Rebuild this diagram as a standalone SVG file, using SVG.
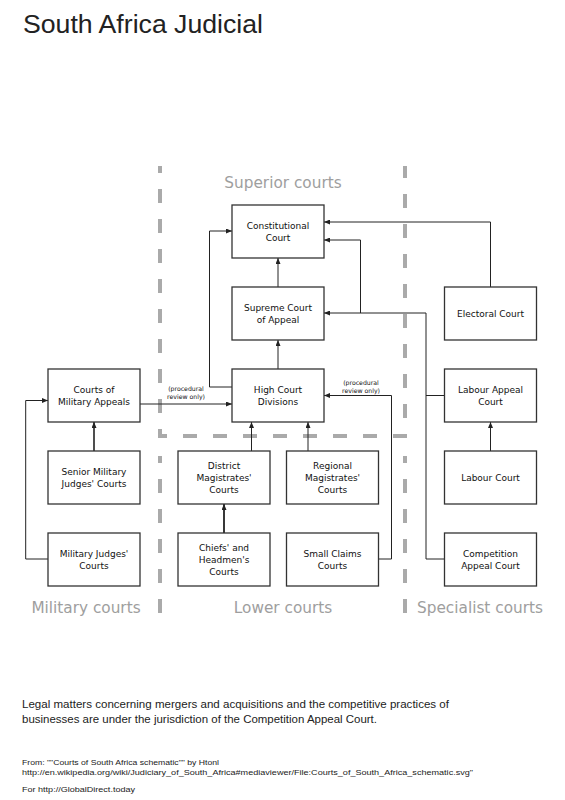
<svg xmlns="http://www.w3.org/2000/svg" width="565" height="800" viewBox="0 0 565 800">
<style>
.box{fill:#fff;stroke:#333;stroke-width:1.3}
.bt{font-family:"DejaVu Sans",Verdana,sans-serif;font-size:9px;fill:#111;text-anchor:middle}
.sec{font-family:"DejaVu Sans",Verdana,sans-serif;font-size:15.3px;fill:#9e9e9e;text-anchor:middle}
.note{font-family:"DejaVu Sans",Verdana,sans-serif;font-size:6.2px;fill:#111;text-anchor:middle}
.dash{fill:none;stroke:#aaa;stroke-width:4;stroke-dasharray:14 16;stroke-dashoffset:7}
.c{fill:none;stroke:#222;stroke-width:1}
.ca{fill:none;stroke:#222;stroke-width:1;marker-end:url(#ah)}
.ft{font-family:"Liberation Sans",Arial,sans-serif;fill:#222}
</style>
<defs>
<marker id="ah" markerUnits="userSpaceOnUse" markerWidth="6" markerHeight="5" refX="6" refY="2.5" orient="auto">
<path d="M0,0 L6,2.5 L0,5 z" fill="#222"/>
</marker>
</defs>
<rect width="565" height="800" fill="#fff"/>
<text class="ft" x="23" y="33" font-size="25" textLength="240" lengthAdjust="spacingAndGlyphs" fill="#111">South Africa Judicial</text>

<g id="regions">
<path class="dash" d="M160,166 V436 H405 V166"/>
<path class="dash" d="M160,456 V628"/>
<path class="dash" d="M405,456 V628"/>
<text class="sec" x="283" y="188">Superior courts</text>
<text class="sec" x="86" y="613">Military courts</text>
<text class="sec" x="283" y="613">Lower courts</text>
<text class="sec" x="480" y="613">Specialist courts</text>
</g>

<g id="connectors">
<path class="ca" d="M278,287 V258"/>
<path class="ca" d="M278,369 V340"/>
<path class="ca" d="M232,387 H209.5 V231 H232"/>
<path class="ca" d="M490.5,287 V222 H324"/>
<path class="c" d="M444.5,395.5 H426"/>
<path class="ca" d="M444.5,559 H426 V313 H324"/>
<path class="ca" d="M360.5,313 V240 H324"/>
<path class="ca" d="M490.5,451 V422"/>
<path class="ca" d="M378.5,559 H391.5 V395.5 H324"/>
<path class="ca" d="M140,404 H232"/>
<path class="ca" d="M94,451 V422" style="stroke-width:1.6"/>
<path class="ca" d="M48,559 H25.7 V400.5 H48"/>
<path class="ca" d="M251.5,451 V422"/>
<path class="ca" d="M308,451 V422"/>
<path class="ca" d="M224,533 V504" style="stroke-width:1.8"/>
<text class="note" x="186" y="391">(procedural</text>
<text class="note" x="186" y="398.5">review only)</text>
<text class="note" x="361" y="385">(procedural</text>
<text class="note" x="361" y="392.5">review only)</text>
</g>

<g id="constitutional"><rect class="box" x="232" y="205" width="92" height="53"/><text class="bt" x="278" y="228.5">Constitutional</text><text class="bt" x="278" y="240.5">Court</text></g>
<g id="supreme"><rect class="box" x="232" y="287" width="92" height="53"/><text class="bt" x="278" y="310.5">Supreme Court</text><text class="bt" x="278" y="322.5">of Appeal</text></g>
<g id="high"><rect class="box" x="232" y="369" width="92" height="53"/><text class="bt" x="278" y="392.5">High Court</text><text class="bt" x="278" y="404.5">Divisions</text></g>

<g id="milappeals"><rect class="box" x="48" y="369" width="92" height="53"/><text class="bt" x="94" y="392.5">Courts of</text><text class="bt" x="94" y="404.5">Military Appeals</text></g>
<g id="senior"><rect class="box" x="48" y="451" width="92" height="53"/><text class="bt" x="94" y="474.5">Senior Military</text><text class="bt" x="94" y="486.5">Judges' Courts</text></g>
<g id="miljudges"><rect class="box" x="48" y="533" width="92" height="53"/><text class="bt" x="94" y="556.5">Military Judges'</text><text class="bt" x="94" y="568.5">Courts</text></g>

<g id="district"><rect class="box" x="178" y="451" width="92" height="53"/><text class="bt" x="224" y="468.5">District</text><text class="bt" x="224" y="480.5">Magistrates'</text><text class="bt" x="224" y="492.5">Courts</text></g>
<g id="regional"><rect class="box" x="286.5" y="451" width="92" height="53"/><text class="bt" x="332.5" y="468.5">Regional</text><text class="bt" x="332.5" y="480.5">Magistrates'</text><text class="bt" x="332.5" y="492.5">Courts</text></g>
<g id="chiefs"><rect class="box" x="178" y="533" width="92" height="53"/><text class="bt" x="224" y="550.5">Chiefs' and</text><text class="bt" x="224" y="562.5">Headmen's</text><text class="bt" x="224" y="574.5">Courts</text></g>
<g id="smallclaims"><rect class="box" x="286.5" y="533" width="92" height="53"/><text class="bt" x="332.5" y="556.5">Small Claims</text><text class="bt" x="332.5" y="568.5">Courts</text></g>

<g id="electoral"><rect class="box" x="444.5" y="287" width="92" height="53"/><text class="bt" x="490.5" y="316.5">Electoral Court</text></g>
<g id="labourappeal"><rect class="box" x="444.5" y="369" width="92" height="53"/><text class="bt" x="490.5" y="392.5">Labour Appeal</text><text class="bt" x="490.5" y="404.5">Court</text></g>
<g id="labour"><rect class="box" x="444.5" y="451" width="92" height="53"/><text class="bt" x="490.5" y="480.5">Labour Court</text></g>
<g id="competition"><rect class="box" x="444.5" y="533" width="92" height="53"/><text class="bt" x="490.5" y="556.5">Competition</text><text class="bt" x="490.5" y="568.5">Appeal Court</text></g>

<g id="footer">
<text class="ft" x="22" y="707.5" font-size="11" textLength="427" lengthAdjust="spacingAndGlyphs">Legal matters concerning mergers and acquisitions and the competitive practices of</text>
<text class="ft" x="22" y="723" font-size="11" textLength="355" lengthAdjust="spacingAndGlyphs">businesses are under the jurisdiction of the Competition Appeal Court.</text>
<text class="ft" x="22" y="764.5" font-size="7.5" textLength="197" lengthAdjust="spacingAndGlyphs">From: ""Courts of South Africa schematic"" by Htonl</text>
<text class="ft" x="22" y="775" font-size="7.5" textLength="451" lengthAdjust="spacingAndGlyphs">http://en.wikipedia.org/wiki/Judiciary_of_South_Africa#mediaviewer/File:Courts_of_South_Africa_schematic.svg"</text>
<text class="ft" x="22" y="791.5" font-size="7.5" textLength="113" lengthAdjust="spacingAndGlyphs">For http://GlobalDirect.today</text>
</g>
</svg>
